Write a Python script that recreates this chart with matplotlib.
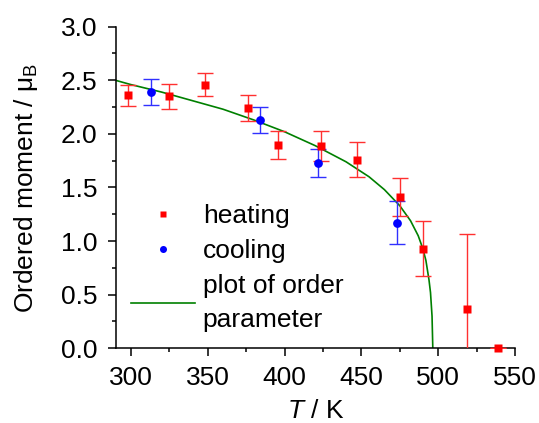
import matplotlib.pyplot as plt
from matplotlib.ticker import MultipleLocator

plt.rcParams['font.family'] = ['Liberation Sans', 'DejaVu Sans']
plt.rcParams['mathtext.fontset'] = 'custom'
plt.rcParams['mathtext.rm'] = 'Liberation Sans'
plt.rcParams['mathtext.it'] = 'Liberation Sans:italic'
plt.rcParams['font.size'] = 19

# heating run
heat_T = [298, 325, 348, 376, 396, 424, 447, 475, 490, 519, 539]
heat_m = [2.36, 2.35, 2.46, 2.24, 1.90, 1.89, 1.76, 1.41, 0.93, 0.37, 0.0]
heat_err = [0.10, 0.12, 0.11, 0.12, 0.13, 0.14, 0.16, 0.18, 0.26, 0.70, 0.0]

# cooling run
cool_T = [313, 384, 422, 473]
cool_m = [2.39, 2.13, 1.73, 1.17]
cool_err = [0.12, 0.12, 0.13, 0.20]

# order parameter curve
op_T = [290, 300, 320, 340, 360, 380, 400, 420, 440, 455, 465, 475,
        482, 487, 490, 492, 494, 495, 496, 496.5]
op_m = [2.50, 2.46, 2.39, 2.31, 2.23, 2.13, 2.02, 1.89, 1.74, 1.60,
        1.48, 1.33, 1.19, 1.05, 0.93, 0.82, 0.64, 0.52, 0.30, 0.0]

fig = plt.figure(figsize=(5.39, 4.23), dpi=100)
ax = fig.add_axes([0.2143, 0.1766, 0.7412, 0.7603])

ax.plot(op_T, op_m, color='#008000', lw=1.2, label='plot of order\nparameter', zorder=2)

ax.errorbar(heat_T, heat_m, yerr=heat_err, fmt='none', ecolor='#ff3030',
            elinewidth=1.0, capsize=6, capthick=1.0, zorder=3)
ax.errorbar(cool_T, cool_m, yerr=cool_err, fmt='none', ecolor='#3030ff',
            elinewidth=1.0, capsize=6, capthick=1.0, zorder=3)
ax.plot(heat_T, heat_m, 's', color='red', ms=5.5, mec='none', label='heating',
        clip_on=False, zorder=4)
ax.plot(cool_T, cool_m, 'o', color='blue', ms=6.3, mec='none', label='cooling',
        clip_on=False, zorder=4)

ax.set_xlim(290, 550)
ax.set_ylim(0, 3.0)
ax.xaxis.set_major_locator(MultipleLocator(50))
ax.xaxis.set_minor_locator(MultipleLocator(25))
ax.yaxis.set_major_locator(MultipleLocator(0.5))
ax.yaxis.set_minor_locator(MultipleLocator(0.25))
ax.yaxis.set_major_formatter(plt.FuncFormatter(lambda v, p: f'{v:.1f}'))

for s in ['top', 'right']:
    ax.spines[s].set_visible(False)
for s in ['left', 'bottom']:
    ax.spines[s].set_linewidth(1.1)
ax.tick_params(which='major', direction='out', length=6, width=1.1, pad=7)
ax.tick_params(which='minor', direction='out', length=3, width=1.1)

ax.set_xlabel(r'$T$ / K', labelpad=6)
ax.set_ylabel(r'Ordered moment / μ$_\mathrm{B}$', labelpad=15)

h, l = ax.get_legend_handles_labels()
order = [1, 2, 0]
leg = ax.legend([h[i] for i in order], [l[i] for i in order], loc='upper left',
                bbox_to_anchor=(0.04, 0.448), frameon=False, borderpad=0,
                borderaxespad=0, handlelength=2.4, handletextpad=0.3,
                labelspacing=0.42, markerscale=0.8)
for t in leg.get_texts():
    t.set_linespacing(1.5)

fig.savefig('out.png', dpi=100)
